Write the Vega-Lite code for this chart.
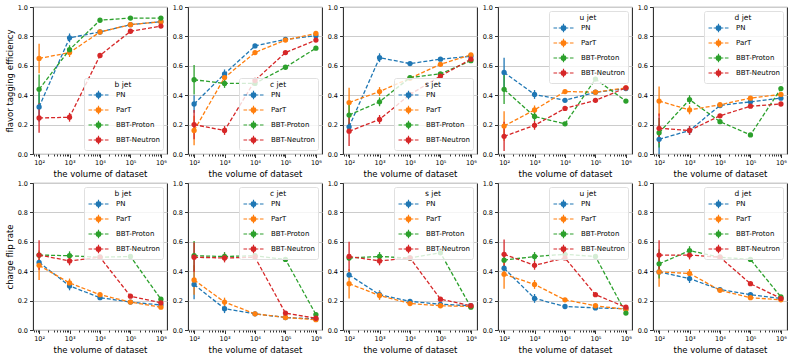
{
"$schema":"https://vega.github.io/schema/vega-lite/v6.json",
"padding":{"left":4,"top":3,"right":2,"bottom":2},
"background":"white",
"data":{"values":[
{"m":"eff","j":"b","s":"PN","x":100,"v":0.32,"e":0.1},{"m":"eff","j":"b","s":"PN","x":1000,"v":0.79,"e":0.03},{"m":"eff","j":"b","s":"PN","x":10000,"v":0.83,"e":0.008},{"m":"eff","j":"b","s":"PN","x":100000,"v":0.88,"e":0.008},{"m":"eff","j":"b","s":"PN","x":1000000,"v":0.90,"e":0.008},
{"m":"eff","j":"b","s":"ParT","x":100,"v":0.65,"e":0.1},{"m":"eff","j":"b","s":"ParT","x":1000,"v":0.69,"e":0.03},{"m":"eff","j":"b","s":"ParT","x":10000,"v":0.83,"e":0.008},{"m":"eff","j":"b","s":"ParT","x":100000,"v":0.88,"e":0.008},{"m":"eff","j":"b","s":"ParT","x":1000000,"v":0.90,"e":0.008},
{"m":"eff","j":"b","s":"BBT-Proton","x":100,"v":0.44,"e":0.1},{"m":"eff","j":"b","s":"BBT-Proton","x":1000,"v":0.71,"e":0.03},{"m":"eff","j":"b","s":"BBT-Proton","x":10000,"v":0.91,"e":0.008},{"m":"eff","j":"b","s":"BBT-Proton","x":100000,"v":0.925,"e":0.008},{"m":"eff","j":"b","s":"BBT-Proton","x":1000000,"v":0.925,"e":0.008},
{"m":"eff","j":"b","s":"BBT-Neutron","x":100,"v":0.245,"e":0.1},{"m":"eff","j":"b","s":"BBT-Neutron","x":1000,"v":0.25,"e":0.03},{"m":"eff","j":"b","s":"BBT-Neutron","x":10000,"v":0.67,"e":0.008},{"m":"eff","j":"b","s":"BBT-Neutron","x":100000,"v":0.835,"e":0.008},{"m":"eff","j":"b","s":"BBT-Neutron","x":1000000,"v":0.87,"e":0.008},

{"m":"eff","j":"c","s":"PN","x":100,"v":0.34,"e":0.06},{"m":"eff","j":"c","s":"PN","x":1000,"v":0.545,"e":0.03},{"m":"eff","j":"c","s":"PN","x":10000,"v":0.735,"e":0.008},{"m":"eff","j":"c","s":"PN","x":100000,"v":0.78,"e":0.008},{"m":"eff","j":"c","s":"PN","x":1000000,"v":0.805,"e":0.008},
{"m":"eff","j":"c","s":"ParT","x":100,"v":0.16,"e":0.1},{"m":"eff","j":"c","s":"ParT","x":1000,"v":0.52,"e":0.03},{"m":"eff","j":"c","s":"ParT","x":10000,"v":0.69,"e":0.008},{"m":"eff","j":"c","s":"ParT","x":100000,"v":0.775,"e":0.008},{"m":"eff","j":"c","s":"ParT","x":1000000,"v":0.82,"e":0.008},
{"m":"eff","j":"c","s":"BBT-Proton","x":100,"v":0.505,"e":0.1},{"m":"eff","j":"c","s":"BBT-Proton","x":1000,"v":0.48,"e":0.03},{"m":"eff","j":"c","s":"BBT-Proton","x":10000,"v":0.48,"e":0.008},{"m":"eff","j":"c","s":"BBT-Proton","x":100000,"v":0.59,"e":0.008},{"m":"eff","j":"c","s":"BBT-Proton","x":1000000,"v":0.72,"e":0.008},
{"m":"eff","j":"c","s":"BBT-Neutron","x":100,"v":0.20,"e":0.1},{"m":"eff","j":"c","s":"BBT-Neutron","x":1000,"v":0.16,"e":0.03},{"m":"eff","j":"c","s":"BBT-Neutron","x":10000,"v":0.50,"e":0.008},{"m":"eff","j":"c","s":"BBT-Neutron","x":100000,"v":0.69,"e":0.008},{"m":"eff","j":"c","s":"BBT-Neutron","x":1000000,"v":0.775,"e":0.008},

{"m":"eff","j":"s","s":"PN","x":100,"v":0.185,"e":0.03},{"m":"eff","j":"s","s":"PN","x":1000,"v":0.655,"e":0.03},{"m":"eff","j":"s","s":"PN","x":10000,"v":0.615,"e":0.008},{"m":"eff","j":"s","s":"PN","x":100000,"v":0.645,"e":0.008},{"m":"eff","j":"s","s":"PN","x":1000000,"v":0.665,"e":0.008},
{"m":"eff","j":"s","s":"ParT","x":100,"v":0.35,"e":0.1},{"m":"eff","j":"s","s":"ParT","x":1000,"v":0.425,"e":0.03},{"m":"eff","j":"s","s":"ParT","x":10000,"v":0.515,"e":0.008},{"m":"eff","j":"s","s":"ParT","x":100000,"v":0.61,"e":0.008},{"m":"eff","j":"s","s":"ParT","x":1000000,"v":0.675,"e":0.008},
{"m":"eff","j":"s","s":"BBT-Proton","x":100,"v":0.265,"e":0.07},{"m":"eff","j":"s","s":"BBT-Proton","x":1000,"v":0.355,"e":0.03},{"m":"eff","j":"s","s":"BBT-Proton","x":10000,"v":0.52,"e":0.008},{"m":"eff","j":"s","s":"BBT-Proton","x":100000,"v":0.545,"e":0.008},{"m":"eff","j":"s","s":"BBT-Proton","x":1000000,"v":0.635,"e":0.008},
{"m":"eff","j":"s","s":"BBT-Neutron","x":100,"v":0.155,"e":0.1},{"m":"eff","j":"s","s":"BBT-Neutron","x":1000,"v":0.235,"e":0.03},{"m":"eff","j":"s","s":"BBT-Neutron","x":10000,"v":0.405,"e":0.008},{"m":"eff","j":"s","s":"BBT-Neutron","x":100000,"v":0.53,"e":0.008},{"m":"eff","j":"s","s":"BBT-Neutron","x":1000000,"v":0.645,"e":0.008},

{"m":"eff","j":"u","s":"PN","x":100,"v":0.555,"e":0.1},{"m":"eff","j":"u","s":"PN","x":1000,"v":0.405,"e":0.03},{"m":"eff","j":"u","s":"PN","x":10000,"v":0.365,"e":0.008},{"m":"eff","j":"u","s":"PN","x":100000,"v":0.42,"e":0.008},{"m":"eff","j":"u","s":"PN","x":1000000,"v":0.445,"e":0.008},
{"m":"eff","j":"u","s":"ParT","x":100,"v":0.19,"e":0.1},{"m":"eff","j":"u","s":"ParT","x":1000,"v":0.30,"e":0.03},{"m":"eff","j":"u","s":"ParT","x":10000,"v":0.425,"e":0.008},{"m":"eff","j":"u","s":"ParT","x":100000,"v":0.42,"e":0.008},{"m":"eff","j":"u","s":"ParT","x":1000000,"v":0.45,"e":0.008},
{"m":"eff","j":"u","s":"BBT-Proton","x":100,"v":0.44,"e":0.1},{"m":"eff","j":"u","s":"BBT-Proton","x":1000,"v":0.255,"e":0.03},{"m":"eff","j":"u","s":"BBT-Proton","x":10000,"v":0.205,"e":0.008},{"m":"eff","j":"u","s":"BBT-Proton","x":100000,"v":0.51,"e":0.008},{"m":"eff","j":"u","s":"BBT-Proton","x":1000000,"v":0.36,"e":0.008},
{"m":"eff","j":"u","s":"BBT-Neutron","x":100,"v":0.12,"e":0.1},{"m":"eff","j":"u","s":"BBT-Neutron","x":1000,"v":0.195,"e":0.03},{"m":"eff","j":"u","s":"BBT-Neutron","x":10000,"v":0.31,"e":0.008},{"m":"eff","j":"u","s":"BBT-Neutron","x":100000,"v":0.365,"e":0.008},{"m":"eff","j":"u","s":"BBT-Neutron","x":1000000,"v":0.45,"e":0.008},

{"m":"eff","j":"d","s":"PN","x":100,"v":0.10,"e":0.1},{"m":"eff","j":"d","s":"PN","x":1000,"v":0.16,"e":0.03},{"m":"eff","j":"d","s":"PN","x":10000,"v":0.33,"e":0.008},{"m":"eff","j":"d","s":"PN","x":100000,"v":0.355,"e":0.008},{"m":"eff","j":"d","s":"PN","x":1000000,"v":0.38,"e":0.008},
{"m":"eff","j":"d","s":"ParT","x":100,"v":0.36,"e":0.1},{"m":"eff","j":"d","s":"ParT","x":1000,"v":0.30,"e":0.03},{"m":"eff","j":"d","s":"ParT","x":10000,"v":0.335,"e":0.008},{"m":"eff","j":"d","s":"ParT","x":100000,"v":0.38,"e":0.008},{"m":"eff","j":"d","s":"ParT","x":1000000,"v":0.405,"e":0.008},
{"m":"eff","j":"d","s":"BBT-Proton","x":100,"v":0.145,"e":0.1},{"m":"eff","j":"d","s":"BBT-Proton","x":1000,"v":0.37,"e":0.03},{"m":"eff","j":"d","s":"BBT-Proton","x":10000,"v":0.22,"e":0.008},{"m":"eff","j":"d","s":"BBT-Proton","x":100000,"v":0.13,"e":0.008},{"m":"eff","j":"d","s":"BBT-Proton","x":1000000,"v":0.445,"e":0.008},
{"m":"eff","j":"d","s":"BBT-Neutron","x":100,"v":0.175,"e":0.1},{"m":"eff","j":"d","s":"BBT-Neutron","x":1000,"v":0.16,"e":0.03},{"m":"eff","j":"d","s":"BBT-Neutron","x":10000,"v":0.26,"e":0.008},{"m":"eff","j":"d","s":"BBT-Neutron","x":100000,"v":0.325,"e":0.008},{"m":"eff","j":"d","s":"BBT-Neutron","x":1000000,"v":0.34,"e":0.008},

{"m":"flip","j":"b","s":"PN","x":100,"v":0.46,"e":0.02},{"m":"flip","j":"b","s":"PN","x":1000,"v":0.30,"e":0.03},{"m":"flip","j":"b","s":"PN","x":10000,"v":0.22,"e":0.008},{"m":"flip","j":"b","s":"PN","x":100000,"v":0.19,"e":0.008},{"m":"flip","j":"b","s":"PN","x":1000000,"v":0.17,"e":0.008},
{"m":"flip","j":"b","s":"ParT","x":100,"v":0.44,"e":0.1},{"m":"flip","j":"b","s":"ParT","x":1000,"v":0.32,"e":0.03},{"m":"flip","j":"b","s":"ParT","x":10000,"v":0.24,"e":0.008},{"m":"flip","j":"b","s":"ParT","x":100000,"v":0.19,"e":0.008},{"m":"flip","j":"b","s":"ParT","x":1000000,"v":0.155,"e":0.008},
{"m":"flip","j":"b","s":"BBT-Proton","x":100,"v":0.51,"e":0.02},{"m":"flip","j":"b","s":"BBT-Proton","x":1000,"v":0.505,"e":0.03},{"m":"flip","j":"b","s":"BBT-Proton","x":10000,"v":0.495,"e":0.008},{"m":"flip","j":"b","s":"BBT-Proton","x":100000,"v":0.50,"e":0.008},{"m":"flip","j":"b","s":"BBT-Proton","x":1000000,"v":0.21,"e":0.008},
{"m":"flip","j":"b","s":"BBT-Neutron","x":100,"v":0.51,"e":0.1},{"m":"flip","j":"b","s":"BBT-Neutron","x":1000,"v":0.47,"e":0.03},{"m":"flip","j":"b","s":"BBT-Neutron","x":10000,"v":0.495,"e":0.008},{"m":"flip","j":"b","s":"BBT-Neutron","x":100000,"v":0.23,"e":0.008},{"m":"flip","j":"b","s":"BBT-Neutron","x":1000000,"v":0.185,"e":0.008},

{"m":"flip","j":"c","s":"PN","x":100,"v":0.31,"e":0.1},{"m":"flip","j":"c","s":"PN","x":1000,"v":0.145,"e":0.03},{"m":"flip","j":"c","s":"PN","x":10000,"v":0.11,"e":0.008},{"m":"flip","j":"c","s":"PN","x":100000,"v":0.085,"e":0.008},{"m":"flip","j":"c","s":"PN","x":1000000,"v":0.075,"e":0.008},
{"m":"flip","j":"c","s":"ParT","x":100,"v":0.34,"e":0.1},{"m":"flip","j":"c","s":"ParT","x":1000,"v":0.19,"e":0.03},{"m":"flip","j":"c","s":"ParT","x":10000,"v":0.11,"e":0.008},{"m":"flip","j":"c","s":"ParT","x":100000,"v":0.085,"e":0.008},{"m":"flip","j":"c","s":"ParT","x":1000000,"v":0.07,"e":0.008},
{"m":"flip","j":"c","s":"BBT-Proton","x":100,"v":0.505,"e":0.1},{"m":"flip","j":"c","s":"BBT-Proton","x":1000,"v":0.50,"e":0.03},{"m":"flip","j":"c","s":"BBT-Proton","x":10000,"v":0.505,"e":0.008},{"m":"flip","j":"c","s":"BBT-Proton","x":100000,"v":0.48,"e":0.008},{"m":"flip","j":"c","s":"BBT-Proton","x":1000000,"v":0.105,"e":0.008},
{"m":"flip","j":"c","s":"BBT-Neutron","x":100,"v":0.495,"e":0.1},{"m":"flip","j":"c","s":"BBT-Neutron","x":1000,"v":0.49,"e":0.03},{"m":"flip","j":"c","s":"BBT-Neutron","x":10000,"v":0.495,"e":0.008},{"m":"flip","j":"c","s":"BBT-Neutron","x":100000,"v":0.115,"e":0.008},{"m":"flip","j":"c","s":"BBT-Neutron","x":1000000,"v":0.08,"e":0.008},

{"m":"flip","j":"s","s":"PN","x":100,"v":0.375,"e":0.02},{"m":"flip","j":"s","s":"PN","x":1000,"v":0.24,"e":0.03},{"m":"flip","j":"s","s":"PN","x":10000,"v":0.195,"e":0.008},{"m":"flip","j":"s","s":"PN","x":100000,"v":0.175,"e":0.008},{"m":"flip","j":"s","s":"PN","x":1000000,"v":0.165,"e":0.008},
{"m":"flip","j":"s","s":"ParT","x":100,"v":0.315,"e":0.1},{"m":"flip","j":"s","s":"ParT","x":1000,"v":0.235,"e":0.03},{"m":"flip","j":"s","s":"ParT","x":10000,"v":0.18,"e":0.008},{"m":"flip","j":"s","s":"ParT","x":100000,"v":0.165,"e":0.008},{"m":"flip","j":"s","s":"ParT","x":1000000,"v":0.16,"e":0.008},
{"m":"flip","j":"s","s":"BBT-Proton","x":100,"v":0.49,"e":0.02},{"m":"flip","j":"s","s":"BBT-Proton","x":1000,"v":0.50,"e":0.03},{"m":"flip","j":"s","s":"BBT-Proton","x":10000,"v":0.49,"e":0.008},{"m":"flip","j":"s","s":"BBT-Proton","x":100000,"v":0.525,"e":0.008},{"m":"flip","j":"s","s":"BBT-Proton","x":1000000,"v":0.155,"e":0.008},
{"m":"flip","j":"s","s":"BBT-Neutron","x":100,"v":0.50,"e":0.1},{"m":"flip","j":"s","s":"BBT-Neutron","x":1000,"v":0.47,"e":0.03},{"m":"flip","j":"s","s":"BBT-Neutron","x":10000,"v":0.49,"e":0.008},{"m":"flip","j":"s","s":"BBT-Neutron","x":100000,"v":0.21,"e":0.008},{"m":"flip","j":"s","s":"BBT-Neutron","x":1000000,"v":0.165,"e":0.008},

{"m":"flip","j":"u","s":"PN","x":100,"v":0.42,"e":0.02},{"m":"flip","j":"u","s":"PN","x":1000,"v":0.215,"e":0.03},{"m":"flip","j":"u","s":"PN","x":10000,"v":0.16,"e":0.008},{"m":"flip","j":"u","s":"PN","x":100000,"v":0.15,"e":0.008},{"m":"flip","j":"u","s":"PN","x":1000000,"v":0.145,"e":0.008},
{"m":"flip","j":"u","s":"ParT","x":100,"v":0.38,"e":0.1},{"m":"flip","j":"u","s":"ParT","x":1000,"v":0.31,"e":0.03},{"m":"flip","j":"u","s":"ParT","x":10000,"v":0.205,"e":0.008},{"m":"flip","j":"u","s":"ParT","x":100000,"v":0.165,"e":0.008},{"m":"flip","j":"u","s":"ParT","x":1000000,"v":0.14,"e":0.008},
{"m":"flip","j":"u","s":"BBT-Proton","x":100,"v":0.475,"e":0.02},{"m":"flip","j":"u","s":"BBT-Proton","x":1000,"v":0.50,"e":0.03},{"m":"flip","j":"u","s":"BBT-Proton","x":10000,"v":0.515,"e":0.008},{"m":"flip","j":"u","s":"BBT-Proton","x":100000,"v":0.50,"e":0.008},{"m":"flip","j":"u","s":"BBT-Proton","x":1000000,"v":0.115,"e":0.008},
{"m":"flip","j":"u","s":"BBT-Neutron","x":100,"v":0.515,"e":0.1},{"m":"flip","j":"u","s":"BBT-Neutron","x":1000,"v":0.44,"e":0.03},{"m":"flip","j":"u","s":"BBT-Neutron","x":10000,"v":0.49,"e":0.008},{"m":"flip","j":"u","s":"BBT-Neutron","x":100000,"v":0.24,"e":0.008},{"m":"flip","j":"u","s":"BBT-Neutron","x":1000000,"v":0.155,"e":0.008},

{"m":"flip","j":"d","s":"PN","x":100,"v":0.395,"e":0.02},{"m":"flip","j":"d","s":"PN","x":1000,"v":0.35,"e":0.03},{"m":"flip","j":"d","s":"PN","x":10000,"v":0.275,"e":0.008},{"m":"flip","j":"d","s":"PN","x":100000,"v":0.24,"e":0.008},{"m":"flip","j":"d","s":"PN","x":1000000,"v":0.215,"e":0.008},
{"m":"flip","j":"d","s":"ParT","x":100,"v":0.395,"e":0.1},{"m":"flip","j":"d","s":"ParT","x":1000,"v":0.385,"e":0.03},{"m":"flip","j":"d","s":"ParT","x":10000,"v":0.27,"e":0.008},{"m":"flip","j":"d","s":"ParT","x":100000,"v":0.22,"e":0.008},{"m":"flip","j":"d","s":"ParT","x":1000000,"v":0.205,"e":0.008},
{"m":"flip","j":"d","s":"BBT-Proton","x":100,"v":0.45,"e":0.1},{"m":"flip","j":"d","s":"BBT-Proton","x":1000,"v":0.54,"e":0.03},{"m":"flip","j":"d","s":"BBT-Proton","x":10000,"v":0.495,"e":0.008},{"m":"flip","j":"d","s":"BBT-Proton","x":100000,"v":0.48,"e":0.008},{"m":"flip","j":"d","s":"BBT-Proton","x":1000000,"v":0.225,"e":0.008},
{"m":"flip","j":"d","s":"BBT-Neutron","x":100,"v":0.51,"e":0.1},{"m":"flip","j":"d","s":"BBT-Neutron","x":1000,"v":0.51,"e":0.03},{"m":"flip","j":"d","s":"BBT-Neutron","x":10000,"v":0.495,"e":0.008},{"m":"flip","j":"d","s":"BBT-Neutron","x":100000,"v":0.315,"e":0.008},{"m":"flip","j":"d","s":"BBT-Neutron","x":1000000,"v":0.215,"e":0.008}
]},
"columns":5,
"spacing":{"row":29,"column":21},
"bounds":"flush",
"resolve":{"legend":{"color":"independent"}},
"concat":[
{"width":134,"height":147,"transform":[{"filter":"datum.m=='eff' && datum.j=='b'"}],
 "encoding":{"x":{"field":"x","type":"quantitative","scale":{"type":"log","domain":[63.1,1584893]},"axis":{"title":"the volume of dataset"}},
  "y":{"field":"v","type":"quantitative","scale":{"domain":[0,1]},"axis":{"title":"flavor tagging efficiency"}},
  "color":{"field":"s","type":"nominal","scale":{"domain":["PN","ParT","BBT-Proton","BBT-Neutron"],"range":["#1f77b4","#ff7f0e","#2ca02c","#d62728"]},"legend":{"title":"b jet","orient":"bottom-right"}}},
 "layer":[{"mark":{"type":"errorbar","thickness":1.3},"encoding":{"yError":{"field":"e"}}},{"mark":{"type":"line","strokeDash":[4,2],"strokeWidth":1.3}},{"mark":{"type":"point","filled":true,"size":28,"opacity":1}}]},
{"width":134,"height":147,"transform":[{"filter":"datum.m=='eff' && datum.j=='c'"}],
 "encoding":{"x":{"field":"x","type":"quantitative","scale":{"type":"log","domain":[63.1,1584893]},"axis":{"title":"the volume of dataset"}},
  "y":{"field":"v","type":"quantitative","scale":{"domain":[0,1]},"axis":{"title":null}},
  "color":{"field":"s","type":"nominal","scale":{"domain":["PN","ParT","BBT-Proton","BBT-Neutron"],"range":["#1f77b4","#ff7f0e","#2ca02c","#d62728"]},"legend":{"title":"c jet","orient":"bottom-right"}}},
 "layer":[{"mark":{"type":"errorbar","thickness":1.3},"encoding":{"yError":{"field":"e"}}},{"mark":{"type":"line","strokeDash":[4,2],"strokeWidth":1.3}},{"mark":{"type":"point","filled":true,"size":28,"opacity":1}}]},
{"width":134,"height":147,"transform":[{"filter":"datum.m=='eff' && datum.j=='s'"}],
 "encoding":{"x":{"field":"x","type":"quantitative","scale":{"type":"log","domain":[63.1,1584893]},"axis":{"title":"the volume of dataset"}},
  "y":{"field":"v","type":"quantitative","scale":{"domain":[0,1]},"axis":{"title":null}},
  "color":{"field":"s","type":"nominal","scale":{"domain":["PN","ParT","BBT-Proton","BBT-Neutron"],"range":["#1f77b4","#ff7f0e","#2ca02c","#d62728"]},"legend":{"title":"s jet","orient":"bottom-right"}}},
 "layer":[{"mark":{"type":"errorbar","thickness":1.3},"encoding":{"yError":{"field":"e"}}},{"mark":{"type":"line","strokeDash":[4,2],"strokeWidth":1.3}},{"mark":{"type":"point","filled":true,"size":28,"opacity":1}}]},
{"width":134,"height":147,"transform":[{"filter":"datum.m=='eff' && datum.j=='u'"}],
 "encoding":{"x":{"field":"x","type":"quantitative","scale":{"type":"log","domain":[63.1,1584893]},"axis":{"title":"the volume of dataset"}},
  "y":{"field":"v","type":"quantitative","scale":{"domain":[0,1]},"axis":{"title":null}},
  "color":{"field":"s","type":"nominal","scale":{"domain":["PN","ParT","BBT-Proton","BBT-Neutron"],"range":["#1f77b4","#ff7f0e","#2ca02c","#d62728"]},"legend":{"title":"u jet","orient":"top-right"}}},
 "layer":[{"mark":{"type":"errorbar","thickness":1.3},"encoding":{"yError":{"field":"e"}}},{"mark":{"type":"line","strokeDash":[4,2],"strokeWidth":1.3}},{"mark":{"type":"point","filled":true,"size":28,"opacity":1}}]},
{"width":134,"height":147,"transform":[{"filter":"datum.m=='eff' && datum.j=='d'"}],
 "encoding":{"x":{"field":"x","type":"quantitative","scale":{"type":"log","domain":[63.1,1584893]},"axis":{"title":"the volume of dataset"}},
  "y":{"field":"v","type":"quantitative","scale":{"domain":[0,1]},"axis":{"title":null}},
  "color":{"field":"s","type":"nominal","scale":{"domain":["PN","ParT","BBT-Proton","BBT-Neutron"],"range":["#1f77b4","#ff7f0e","#2ca02c","#d62728"]},"legend":{"title":"d jet","orient":"top-right"}}},
 "layer":[{"mark":{"type":"errorbar","thickness":1.3},"encoding":{"yError":{"field":"e"}}},{"mark":{"type":"line","strokeDash":[4,2],"strokeWidth":1.3}},{"mark":{"type":"point","filled":true,"size":28,"opacity":1}}]},
{"width":134,"height":147,"transform":[{"filter":"datum.m=='flip' && datum.j=='b'"}],
 "encoding":{"x":{"field":"x","type":"quantitative","scale":{"type":"log","domain":[63.1,1584893]},"axis":{"title":"the volume of dataset"}},
  "y":{"field":"v","type":"quantitative","scale":{"domain":[0,1]},"axis":{"title":"charge flip rate"}},
  "color":{"field":"s","type":"nominal","scale":{"domain":["PN","ParT","BBT-Proton","BBT-Neutron"],"range":["#1f77b4","#ff7f0e","#2ca02c","#d62728"]},"legend":{"title":"b jet","orient":"top-right"}}},
 "layer":[{"mark":{"type":"errorbar","thickness":1.3},"encoding":{"yError":{"field":"e"}}},{"mark":{"type":"line","strokeDash":[4,2],"strokeWidth":1.3}},{"mark":{"type":"point","filled":true,"size":28,"opacity":1}}]},
{"width":134,"height":147,"transform":[{"filter":"datum.m=='flip' && datum.j=='c'"}],
 "encoding":{"x":{"field":"x","type":"quantitative","scale":{"type":"log","domain":[63.1,1584893]},"axis":{"title":"the volume of dataset"}},
  "y":{"field":"v","type":"quantitative","scale":{"domain":[0,1]},"axis":{"title":null}},
  "color":{"field":"s","type":"nominal","scale":{"domain":["PN","ParT","BBT-Proton","BBT-Neutron"],"range":["#1f77b4","#ff7f0e","#2ca02c","#d62728"]},"legend":{"title":"c jet","orient":"top-right"}}},
 "layer":[{"mark":{"type":"errorbar","thickness":1.3},"encoding":{"yError":{"field":"e"}}},{"mark":{"type":"line","strokeDash":[4,2],"strokeWidth":1.3}},{"mark":{"type":"point","filled":true,"size":28,"opacity":1}}]},
{"width":134,"height":147,"transform":[{"filter":"datum.m=='flip' && datum.j=='s'"}],
 "encoding":{"x":{"field":"x","type":"quantitative","scale":{"type":"log","domain":[63.1,1584893]},"axis":{"title":"the volume of dataset"}},
  "y":{"field":"v","type":"quantitative","scale":{"domain":[0,1]},"axis":{"title":null}},
  "color":{"field":"s","type":"nominal","scale":{"domain":["PN","ParT","BBT-Proton","BBT-Neutron"],"range":["#1f77b4","#ff7f0e","#2ca02c","#d62728"]},"legend":{"title":"s jet","orient":"top-right"}}},
 "layer":[{"mark":{"type":"errorbar","thickness":1.3},"encoding":{"yError":{"field":"e"}}},{"mark":{"type":"line","strokeDash":[4,2],"strokeWidth":1.3}},{"mark":{"type":"point","filled":true,"size":28,"opacity":1}}]},
{"width":134,"height":147,"transform":[{"filter":"datum.m=='flip' && datum.j=='u'"}],
 "encoding":{"x":{"field":"x","type":"quantitative","scale":{"type":"log","domain":[63.1,1584893]},"axis":{"title":"the volume of dataset"}},
  "y":{"field":"v","type":"quantitative","scale":{"domain":[0,1]},"axis":{"title":null}},
  "color":{"field":"s","type":"nominal","scale":{"domain":["PN","ParT","BBT-Proton","BBT-Neutron"],"range":["#1f77b4","#ff7f0e","#2ca02c","#d62728"]},"legend":{"title":"u jet","orient":"top-right"}}},
 "layer":[{"mark":{"type":"errorbar","thickness":1.3},"encoding":{"yError":{"field":"e"}}},{"mark":{"type":"line","strokeDash":[4,2],"strokeWidth":1.3}},{"mark":{"type":"point","filled":true,"size":28,"opacity":1}}]},
{"width":134,"height":147,"transform":[{"filter":"datum.m=='flip' && datum.j=='d'"}],
 "encoding":{"x":{"field":"x","type":"quantitative","scale":{"type":"log","domain":[63.1,1584893]},"axis":{"title":"the volume of dataset"}},
  "y":{"field":"v","type":"quantitative","scale":{"domain":[0,1]},"axis":{"title":null}},
  "color":{"field":"s","type":"nominal","scale":{"domain":["PN","ParT","BBT-Proton","BBT-Neutron"],"range":["#1f77b4","#ff7f0e","#2ca02c","#d62728"]},"legend":{"title":"d jet","orient":"top-right"}}},
 "layer":[{"mark":{"type":"errorbar","thickness":1.3},"encoding":{"yError":{"field":"e"}}},{"mark":{"type":"line","strokeDash":[4,2],"strokeWidth":1.3}},{"mark":{"type":"point","filled":true,"size":28,"opacity":1}}]}
],
"config":{
 "font":"DejaVu Sans",
 "view":{"stroke":"#000000","strokeWidth":0.9},
 "axis":{"domain":false,"gridColor":"#cccccc","gridWidth":1,"tickColor":"#000000","labelColor":"#000000","titleColor":"#000000","labelFontSize":6.5,"titleFontSize":8.5,"titleFontWeight":400,"labelPadding":2,"titlePadding":3,"tickWidth":0.8},
 "axisX":{"titleFontWeight":400,"values":[70,80,90,100,200,300,400,500,600,700,800,900,1000,2000,3000,4000,5000,6000,7000,8000,9000,10000,20000,30000,40000,50000,60000,70000,80000,90000,100000,200000,300000,400000,500000,600000,700000,800000,900000,1000000],
  "labelExpr":"datum.value==100?'10²':datum.value==1000?'10³':datum.value==10000?'10⁴':datum.value==100000?'10⁵':datum.value==1000000?'10⁶':''",
  "labelOverlap":false,"labelFlush":false,
  "tickSize":{"condition":{"test":"indexof([100,1000,10000,100000,1000000], datum.value) >= 0","value":3.5},"value":2},
  "gridOpacity":{"condition":{"test":"indexof([100,1000,10000,100000,1000000], datum.value) >= 0","value":1},"value":0}},
 "axisY":{"titleFontWeight":400,"values":[0,0.2,0.4,0.6,0.8,1.0],"format":".1f","tickSize":3.5},
 "legend":{"offset":4,"padding":3,"titleFontSize":7.5,"titleFontWeight":400,"titleAnchor":"middle","titlePadding":3,"titleColor":"#000000","labelColor":"#000000","labelFontSize":7,
  "symbolType":"M-5,0H-3.2M-2.4,0H-0.6M0.6,0H2.4M3.2,0H5M1.25,0L0.88,0.88L0,1.25L-0.88,0.88L-1.25,0L-0.88,-0.88L0,-1.25L0.88,-0.88ZM0,-2.1V2.1",
  "symbolSize":16,"symbolStrokeWidth":1.2,"symbolOffset":8,"labelOffset":14,"rowPadding":0,
  "fillColor":"rgba(255,255,255,0.8)","strokeColor":"#e0e0e0","cornerRadius":2}
}
}
